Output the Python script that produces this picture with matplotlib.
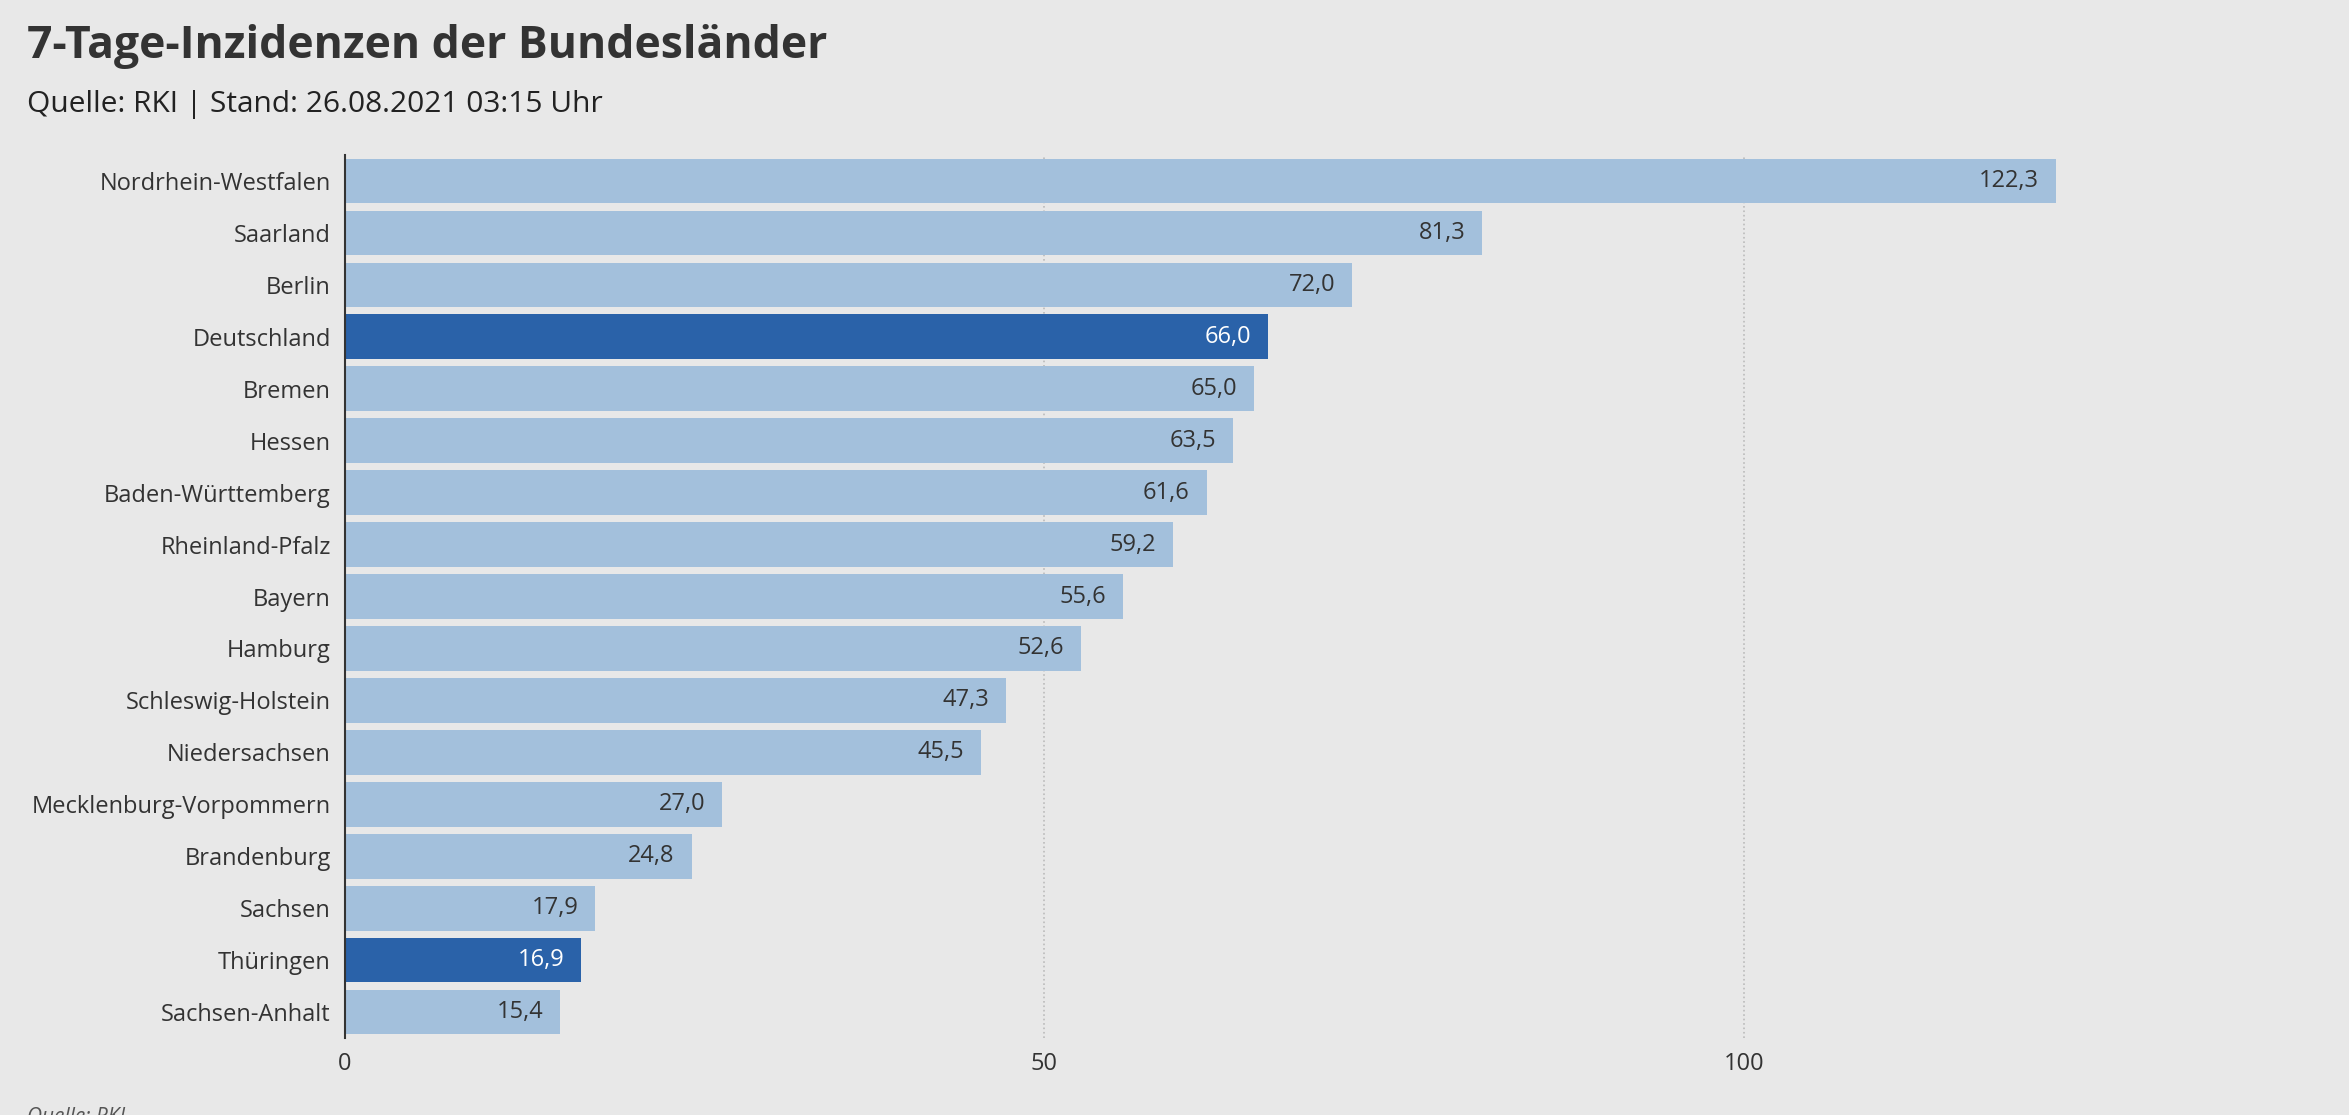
import matplotlib.pyplot as plt

states = ["Nordrhein-Westfalen", "Saarland", "Berlin", "Deutschland", "Bremen", "Hessen",
          "Baden-Württemberg", "Rheinland-Pfalz", "Bayern", "Hamburg", "Schleswig-Holstein",
          "Niedersachsen", "Mecklenburg-Vorpommern", "Brandenburg", "Sachsen", "Thüringen",
          "Sachsen-Anhalt"]
values = [122.3, 81.3, 72.0, 66.0, 65.0, 63.5, 61.6, 59.2, 55.6, 52.6, 47.3, 45.5,
          27.0, 24.8, 17.9, 16.9, 15.4]
highlight = ["Deutschland", "Thüringen"]
ticks = [0, 50, 100]

plt.rcParams['font.family'] = ['Open Sans', 'DejaVu Sans']
bg = "#e8e8e8"
light, dark = "#a3c0dc", "#2a62a9"

fig = plt.figure(figsize=(23.49, 11.15), dpi=100, facecolor=bg)
ax = fig.add_axes([0.1467, 0.069, 0.834, 0.792], facecolor=bg)

ypos = list(range(len(states)))
colors = [dark if s in highlight else light for s in states]
ax.barh(ypos, values, height=0.86, color=colors, zorder=2)
for y, v, s in zip(ypos, values, states):
    ax.text(v - 1.2, y, f"{v:.1f}".replace(".", ","), ha="right", va="center",
            fontsize=17, color="white" if s in highlight else "#333333", zorder=3)

ax.set_ylim(len(states) - 0.5, -0.5)
ax.set_xlim(0, 140)
ax.set_yticks(ypos, states, fontsize=17, color="#333333")
ax.set_xticks(ticks, [str(t) for t in ticks], fontsize=17, color="#333333")
ax.tick_params(length=0, pad=10)
ax.grid(axis="x", linestyle=":", color="#bbbbbb", linewidth=1.2, zorder=1)
for sp in ["top", "right", "bottom"]:
    ax.spines[sp].set_visible(False)
ax.spines["left"].set_color("#333333")
ax.spines["left"].set_linewidth(1.5)
ax.spines["left"].set_zorder(4)

fig.text(0.0115, 0.958, "7-Tage-Inzidenzen der Bundesländer", fontsize=32,
         fontweight="bold", color="#333333", va="center")
fig.text(0.0115, 0.906, "Quelle: RKI | Stand: 26.08.2021 03:15 Uhr", fontsize=21.5,
         color="#222222", va="center")
fig.text(0.0115, -0.002, "Quelle: RKI", fontsize=15, style="italic", color="#555555", va="center")

fig.savefig("out.png", dpi=100, facecolor=bg)
